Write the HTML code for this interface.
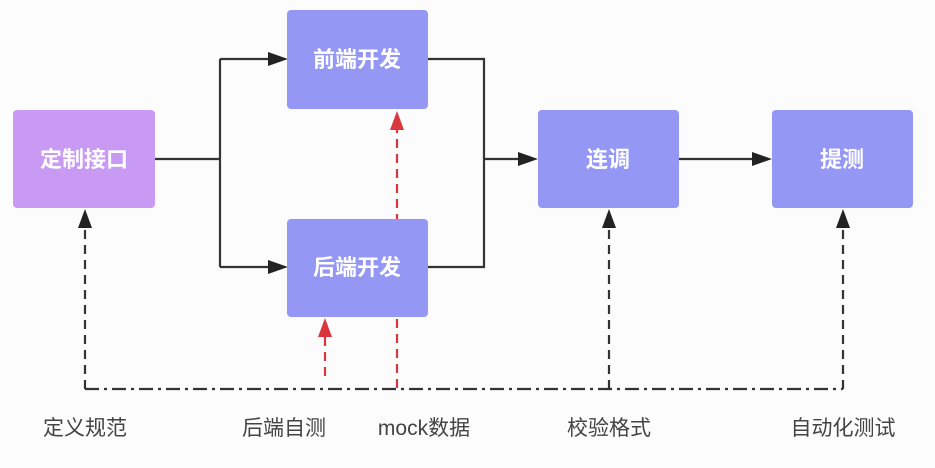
<!DOCTYPE html>
<html><head><meta charset="utf-8"><style>
html,body{margin:0;padding:0;background:#fdfcfd;}
svg{display:block}
.b{font-family:"Liberation Sans","Noto Sans CJK SC",sans-serif;font-size:22px;font-weight:bold;fill:#fff}
.l{font-family:"Liberation Sans","Noto Sans CJK SC",sans-serif;font-size:21px;fill:#444}
</style></head><body>
<svg width="935" height="468" viewBox="0 0 935 468" xmlns="http://www.w3.org/2000/svg">
<g stroke="#333" stroke-width="2.2" fill="none">
<path d="M85,389 H843" stroke-dasharray="14,5,3,5"/>
<path d="M85,389 V222" stroke-dasharray="9,6"/>
<path d="M609,389 V222" stroke-dasharray="9,6"/>
<path d="M843,389 V222" stroke-dasharray="9,6"/>
</g>
<g fill="#222">
<path d="M78,228 L85,209 L92,228 z"/>
<path d="M602,228 L609,209 L616,228 z"/>
<path d="M836,228 L843,209 L850,228 z"/>
</g>
<g stroke="#d9363e" stroke-width="2.2" fill="none" stroke-dasharray="9,6">
<path d="M397,388 V128"/>
<path d="M325,376 V335"/>
</g>
<g fill="#d9363e">
<path d="M390,130 L397,111 L404,130 z"/>
<path d="M318,337 L325,318 L332,337 z"/>
</g>
<g stroke="#333" stroke-width="2.2" fill="none">
<path d="M155,159 H220 M220,59 V267 M220,59 H277 M220,267 H277"/>
<path d="M428,59 H484 V267 H428 M484,159 H528"/>
<path d="M679,159 H762"/>
</g>
<g fill="#222">
<path d="M268,52 L288,59 L268,66 z"/>
<path d="M268,260 L288,267 L268,274 z"/>
<path d="M518,152 L538,159 L518,166 z"/>
<path d="M752,152 L772,159 L752,166 z"/>
</g>
<rect x="13" y="110" width="142" height="98" rx="4" fill="#c99af4"/>
<rect x="287" y="10" width="141" height="99" rx="4" fill="#9597f4"/>
<rect x="287" y="219" width="141" height="98" rx="4" fill="#9597f4"/>
<rect x="538" y="110" width="141" height="98" rx="4" fill="#9597f4"/>
<rect x="772" y="110" width="141" height="98" rx="4" fill="#9597f4"/>
<text class="b" x="84" y="167" text-anchor="middle">定制接口</text>
<text class="b" x="357" y="67" text-anchor="middle">前端开发</text>
<text class="b" x="357" y="275" text-anchor="middle">后端开发</text>
<text class="b" x="608" y="167" text-anchor="middle">连调</text>
<text class="b" x="842" y="167" text-anchor="middle">提测</text>
<text class="l" x="85" y="435" text-anchor="middle">定义规范</text>
<text class="l" x="284" y="435" text-anchor="middle">后端自测</text>
<text class="l" x="424" y="435" text-anchor="middle">mock数据</text>
<text class="l" x="609" y="435" text-anchor="middle">校验格式</text>
<text class="l" x="843" y="435" text-anchor="middle">自动化测试</text>
</svg>
</body></html>
